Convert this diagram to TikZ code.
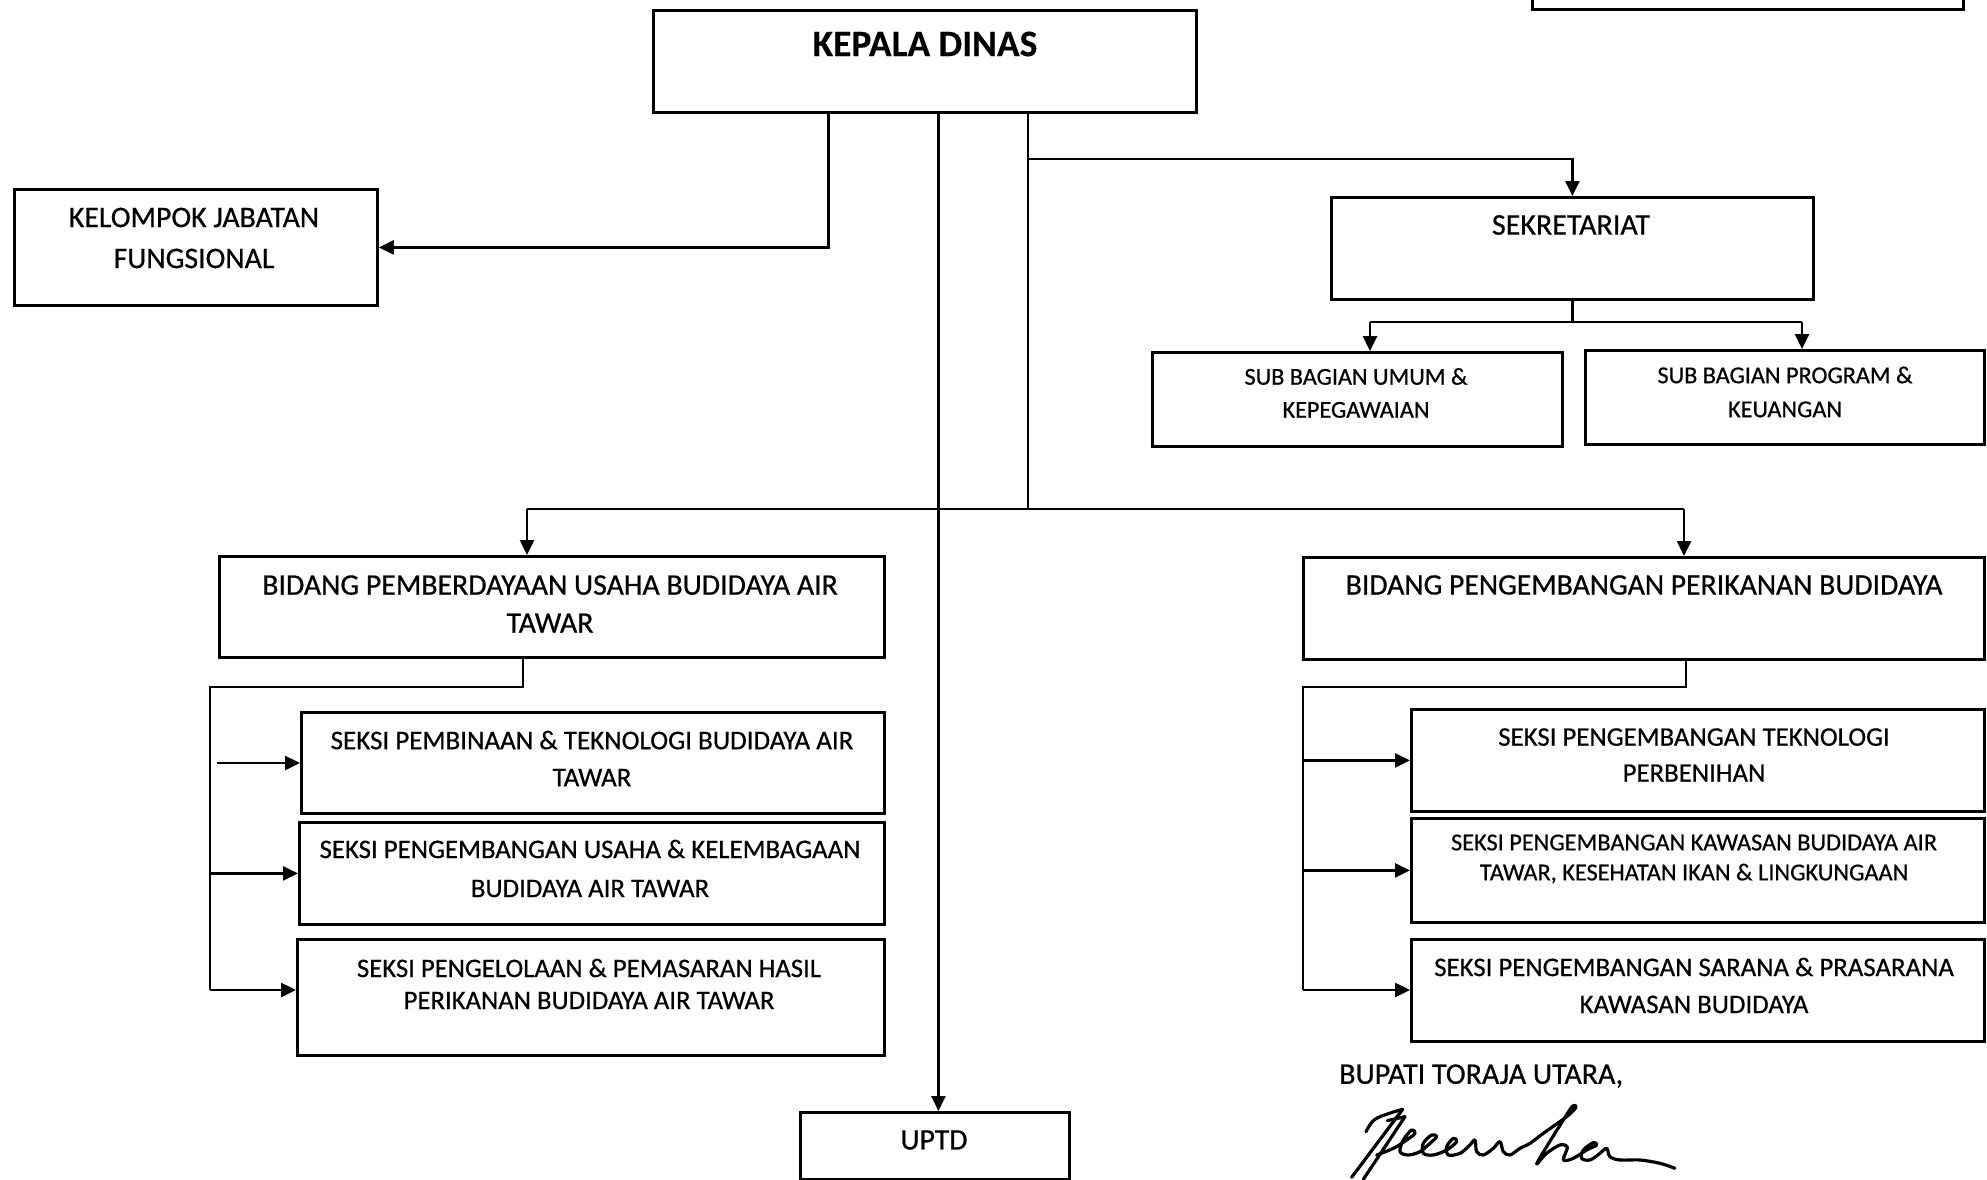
\documentclass[tikz,border=0pt]{standalone}
\usepackage{fontspec}
\setmainfont{Carlito}[FakeBold=0.6,BoldFont={Carlito Bold},BoldFeatures={FakeBold=0.3}]
\usetikzlibrary{arrows.meta}
\newcommand\orgbox[5]{\node[box, anchor=north west, minimum width={#4-#2}, minimum height={#5-#3}] (#1) at (#2,#3) {};}
\begin{document}
\begin{tikzpicture}[x=1pt,y=-1pt,
  box/.style={draw, line width=2.8pt, inner sep=0pt, fill=none},
  conn/.style={line width=2.5pt},
  arr/.style={conn, -{Triangle[length=15pt,width=14pt]}},
  lbl/.style={align=center, inner sep=0pt, text=black},
  sig/.style={line width=3.2pt, line cap=round, line join=round}
]
\useasboundingbox (0,0) rectangle (1987,1180);
\clip (0,0) rectangle (1987,1180);

% boxes
\node[box, anchor=south west, minimum width=431, minimum height=40] (topbox) at (1531,11) {};
\orgbox{kepala}{652}{9}{1195}{111}
\orgbox{jf}{13}{188}{376}{304}
\orgbox{sek}{1330}{196}{1812}{298}
\orgbox{sub1}{1151}{351}{1561}{445}
\orgbox{sub2}{1584}{349}{1983}{443}
\orgbox{bidL}{218}{555}{883}{656}
\orgbox{bidR}{1302}{556}{1983}{658}
\orgbox{sL1}{300}{711}{883}{812}
\orgbox{sL2}{298}{821}{883}{923}
\orgbox{sL3}{296}{938}{883}{1054}
\orgbox{sR1}{1410}{708}{1983}{810}
\orgbox{sR2}{1410}{817}{1983}{921}
\orgbox{sR3}{1410}{938}{1983}{1040}
\orgbox{uptd}{799}{1111}{1068}{1178}

% texts
\node[lbl, font={\fontsize{37.5}{40}\selectfont\bfseries}] (tkepala) at (925,44) {KEPALA DINAS};
\node[lbl, font={\fontsize{29.8}{41}\selectfont}] (tjf) at (194,238) {KELOMPOK JABATAN\\FUNGSIONAL};
\node[lbl, font={\fontsize{30}{34}\selectfont}] (tsek) at (1571,225) {SEKRETARIAT};
\node[lbl, font={\fontsize{24.2}{33}\selectfont}] (tsub1) at (1356,393) {SUB BAGIAN UMUM \&\\KEPEGAWAIAN};
\node[lbl, font={\fontsize{24.2}{34}\selectfont}] (tsub2) at (1785,392) {SUB BAGIAN PROGRAM \&\\KEUANGAN};
\node[lbl, font={\fontsize{29.8}{38}\selectfont}] (tbidL) at (550,604) {BIDANG PEMBERDAYAAN USAHA BUDIDAYA AIR\\TAWAR};
\node[lbl, font={\fontsize{29.7}{38}\selectfont}] (tbidR) at (1644,585) {BIDANG PENGEMBANGAN PERIKANAN BUDIDAYA};
\node[lbl, font={\fontsize{27}{37}\selectfont}] (tsL1) at (592,758.5) {SEKSI PEMBINAAN \& TEKNOLOGI BUDIDAYA AIR\\TAWAR};
\node[lbl, font={\fontsize{26.8}{39}\selectfont}] (tsL2) at (590,868.5) {SEKSI PENGEMBANGAN USAHA \& KELEMBAGAAN\\BUDIDAYA AIR TAWAR};
\node[lbl, font={\fontsize{26.7}{32}\selectfont}] (tsL3) at (589,984) {SEKSI PENGELOLAAN \& PEMASARAN HASIL\\PERIKANAN BUDIDAYA AIR TAWAR};
\node[lbl, font={\fontsize{26.8}{36}\selectfont}] (tsR1) at (1694,755) {SEKSI PENGEMBANGAN TEKNOLOGI\\PERBENIHAN};
\node[lbl, font={\fontsize{24.3}{30}\selectfont}] (tsR2) at (1694,859) {SEKSI PENGEMBANGAN KAWASAN BUDIDAYA AIR\\TAWAR, KESEHATAN IKAN \& LINGKUNGAAN};
\node[lbl, font={\fontsize{26.8}{37}\selectfont}] (tsR3) at (1694,985.5) {SEKSI PENGEMBANGAN SARANA \& PRASARANA\\KAWASAN BUDIDAYA};
\node[lbl, font={\fontsize{29.7}{34}\selectfont}] (tuptd) at (934,1140) {UPTD};
\node[lbl, anchor=west, font={\fontsize{30}{34}\selectfont}] (tbupati) at (1339,1076) {BUPATI TORAJA UTARA,};

% connectors from Kepala Dinas
\draw[arr] ([xshift=-96.5pt]kepala.south) |- (jf.east);
\draw[arr] ([xshift=13.5pt]kepala.south) -- ([xshift=13.5pt]kepala.south |- uptd.north);
\coordinate (hub) at (1028,509);
\coordinate (br1) at (1028,159);
\draw[conn] (kepala.south -| hub) -- (hub);
\draw[arr] (br1) -| (sek.north);

% sekretariat children
\coordinate (sbL) at (1370,322);
\coordinate (sbR) at (1802,322);
\draw[conn] (sek.south) -- (sek.south |- sbL);
\draw[conn] (sbL) -- (sbR);
\draw[arr] (sbL) -- (sbL |- sub1.north);
\draw[arr] (sbR) -- (sbR |- sub2.north);

% bidang
\coordinate (hL) at (527,509);
\coordinate (hR) at (1684,509);
\draw[conn] (hL) -- (hR);
\draw[arr] (hL) -- (hL |- bidL.north);
\draw[arr] (hR) -- (hR |- bidR.north);

% left seksi
\coordinate (lbus) at (210,687);
\coordinate (lend) at (210,990);
\coordinate (la1) at (217,763);
\draw[conn] (bidL.south -| 523,0) |- (lbus) -- (lend);
\draw[arr] (la1) -- (la1 -| sL1.west);
\draw[arr] (lbus |- sL2.west) -- (sL2.west);
\draw[arr] (lend) -- (lend -| sL3.west);

% right seksi
\coordinate (rbus) at (1303,687);
\coordinate (rend) at (1303,990);
\draw[conn] (bidR.south -| 1686,0) |- (rbus) -- (rend);
\draw[arr] (rbus |- sR1.west) -- (sR1.west);
\draw[arr] (rbus |- sR2.west) -- (sR2.west);
\draw[arr] (rend) -- (rend -| sR3.west);

% signature
\begin{scope}[shift={(1280,1020)}, x=0.3333pt, y=-0.3333pt]
\draw[sig] plot[smooth, tension=0.6] coordinates {(258,335) (282,300) (325,281) (368,268)};
\draw[sig] (368,268) -- (215,472);
\draw[sig] (322,302) -- (375,290) -- (250,478);
\draw[sig] plot[smooth, tension=0.55] coordinates {
(290,405) (340,385) (380,360) (405,340) (395,330) (370,360) (360,395) (385,405)
(420,395) (450,370) (470,350) (455,345) (430,370) (430,400) (460,405)
(500,390) (530,365) (520,355) (500,380) (505,405) (540,400)
(570,375) (585,360) (590,395) (610,405) (640,385) (660,365) (670,395) (690,405)
(720,385) (750,370) (790,340) (860,290) (888,262) (878,258) (850,300) (800,380) (770,432)
(800,400) (840,375) (862,382) (850,420) (880,415) (920,390) (950,375) (940,368)
(910,390) (905,415) (930,420) (960,400) (980,385) (990,410) (1020,420)
(1080,420) (1140,430) (1185,445)};
\end{scope}
\end{tikzpicture}
\end{document}
